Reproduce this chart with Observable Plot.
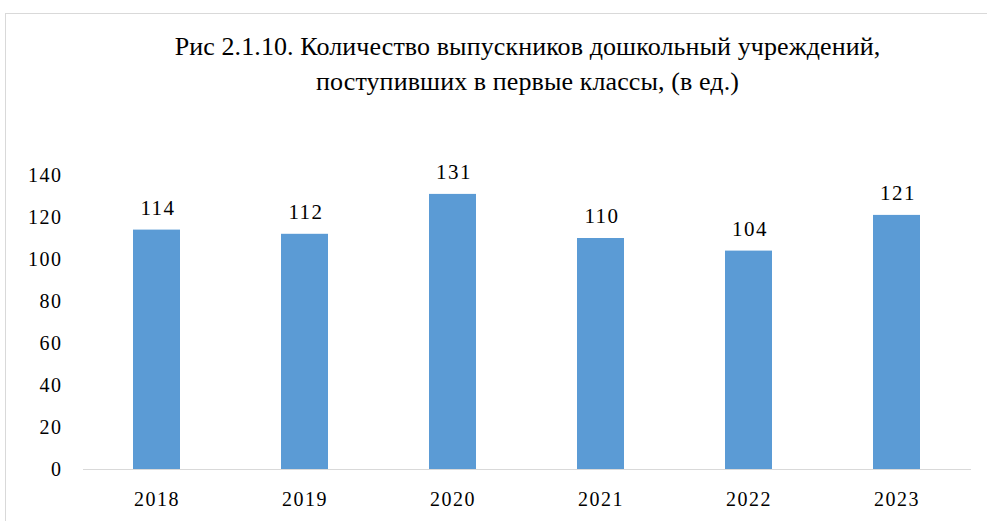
<!DOCTYPE html>
<html><head><meta charset="utf-8">
<script src="https://cdn.jsdelivr.net/npm/d3@7"></script>
<script src="https://cdn.jsdelivr.net/npm/@observablehq/plot@0.6"></script>
<style>
body{margin:0;background:#fff;}
#wrap{position:relative;width:987px;height:521px;overflow:hidden;font-family:"Liberation Serif","DejaVu Serif",serif;}
#frame{position:absolute;left:5px;top:13px;width:1000px;height:540px;border:1px solid #d9d9d9;box-sizing:border-box;}
#title{position:absolute;left:64px;top:29px;width:927px;text-align:center;font-size:26px;line-height:35px;color:#000;letter-spacing:0.1px;font-family:"Liberation Serif","DejaVu Serif",serif;}
#chart{position:absolute;left:0;top:0;}
#chart svg text{letter-spacing:1.5px;}
</style></head>
<body>
<div id="wrap"><div id="frame"></div><div id="title">Рис 2.1.10. Количество выпускников дошкольный учреждений,<br>поступивших в первые классы, (в ед.)</div><div id="chart"></div></div>
<script>
const years = ["2018","2019","2020","2021","2022","2023"];
const values = [114,112,131,110,104,121];
const yTicks = [0,20,40,60,80,100,120,140];
const data = years.map((y,i)=>({year:y,value:values[i]}));
const plot = Plot.plot({
  width:987,height:521,
  marginTop:175,marginBottom:52,marginLeft:83,marginRight:16,
  style:{fontFamily:"'Liberation Serif','DejaVu Serif',serif",fontSize:"20px",color:"#000",background:"transparent"},
  x:{domain:years,paddingInner:0.68,paddingOuter:0.34,label:null,tickSize:0,tickPadding:22},
  y:{domain:[0,140],ticks:yTicks,label:null,tickSize:0,tickPadding:21},
  marks:[
    Plot.barY(data,{x:"year",y:"value",fill:"#5b9bd5"}),
    Plot.ruleY([0],{stroke:"#d9d9d9",strokeWidth:1}),
    Plot.text(data,{x:"year",y:"value",text:d=>String(d.value),dy:-22,dx:1,fontSize:21,fill:"#000"})
  ]
});
document.getElementById("chart").appendChild(plot);
</script>
</body></html>
